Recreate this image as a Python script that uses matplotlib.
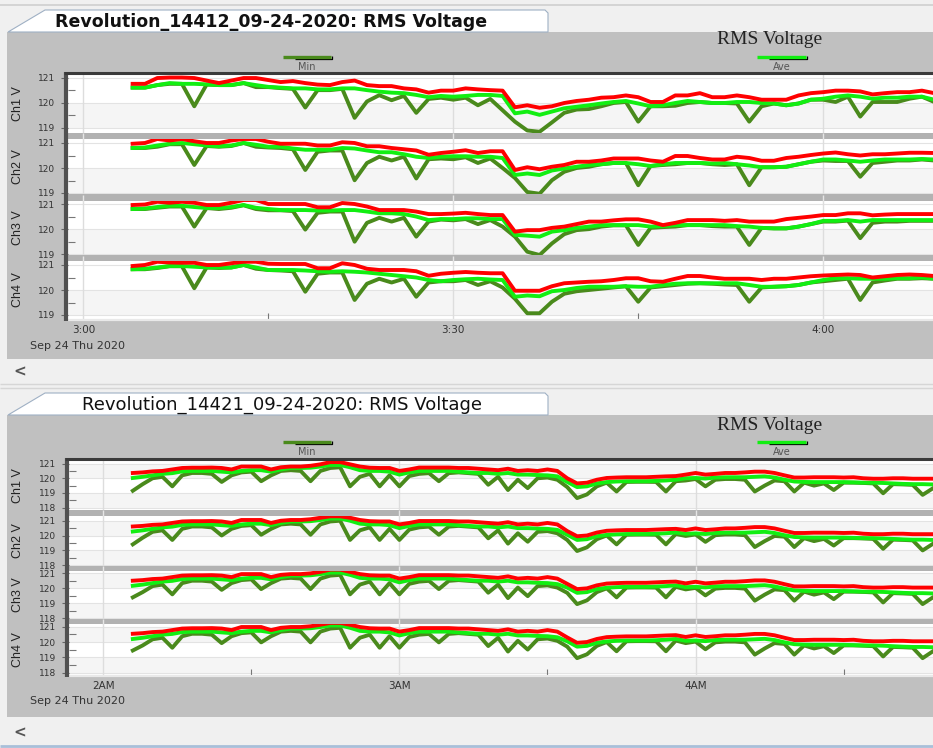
import matplotlib
matplotlib.use("Agg")
import matplotlib.pyplot as plt
from matplotlib.lines import Line2D
from matplotlib.patches import Rectangle, Polygon
from matplotlib.ticker import FixedLocator

# ---------------- data ----------------
# recorder 14412: minutes after 3:00, one sample per minute
top_minutes = list(range(4, 70))
top_ch1_max = [120.75, 120.75, 120.98, 121.00, 121.00, 120.98, 120.88, 120.78, 120.88, 120.98,
               120.98, 120.90, 120.82, 120.86, 120.78, 120.72, 120.70, 120.82, 120.88, 120.70,
               120.66, 120.66, 120.57, 120.53, 120.40, 120.48, 120.48, 120.57, 120.53, 120.50,
               120.48, 119.82, 119.90, 119.80, 119.86, 119.99, 120.07, 120.12, 120.20, 120.22,
               120.29, 120.22, 120.03, 120.03, 120.29, 120.29, 120.38, 120.22, 120.22, 120.29,
               120.22, 120.12, 120.12, 120.12, 120.29, 120.38, 120.42, 120.48, 120.48, 120.45,
               120.33, 120.38, 120.42, 120.42, 120.48, 120.38]
top_ch1_ave = [120.60, 120.60, 120.70, 120.78, 120.75, 120.75, 120.73, 120.70, 120.70, 120.78,
               120.70, 120.63, 120.60, 120.57, 120.57, 120.53, 120.53, 120.57, 120.57, 120.50,
               120.44, 120.40, 120.38, 120.31, 120.22, 120.27, 120.24, 120.27, 120.31, 120.31,
               120.27, 119.58, 119.65, 119.52, 119.65, 119.78, 119.84, 119.90, 119.97, 120.03,
               120.07, 119.97, 119.86, 119.90, 119.99, 120.07, 120.03, 119.99, 119.99, 120.03,
               120.03, 119.99, 119.97, 119.90, 119.97, 120.12, 120.16, 120.24, 120.29, 120.24,
               120.16, 120.20, 120.20, 120.24, 120.24, 120.12]
top_ch1_min = [120.60, 120.60, 120.70, 120.75, 120.75, 119.86, 120.72, 120.70, 120.70, 120.78,
               120.62, 120.62, 120.58, 120.55, 119.81, 120.50, 120.50, 120.55, 119.40, 120.05,
               120.30, 120.10, 120.27, 119.60, 120.15, 120.20, 120.12, 120.20, 119.90, 120.15,
               119.70, 119.25, 118.90, 118.85, 119.22, 119.60, 119.73, 119.75, 119.86, 119.99,
               120.03, 119.25, 119.86, 119.86, 119.88, 119.99, 120.03, 119.99, 119.99, 119.97,
               119.25, 119.86, 119.97, 119.90, 119.97, 120.12, 120.12, 120.03, 120.24, 119.45,
               120.03, 120.03, 120.03, 120.16, 120.24, 120.03]

top_ch2_max = [120.97, 121.00, 121.16, 121.10, 121.16, 121.07, 121.00, 121.00, 121.10, 121.16,
               121.16, 121.05, 120.97, 120.97, 120.97, 120.90, 120.90, 121.03, 121.00, 120.87,
               120.87, 120.80, 120.75, 120.70, 120.53, 120.60, 120.65, 120.71, 120.60, 120.67,
               120.67, 119.92, 120.03, 119.95, 120.05, 120.12, 120.25, 120.25, 120.30, 120.38,
               120.38, 120.38, 120.30, 120.25, 120.48, 120.48, 120.40, 120.34, 120.34, 120.45,
               120.40, 120.29, 120.29, 120.40, 120.45, 120.52, 120.58, 120.62, 120.55, 120.50,
               120.55, 120.55, 120.58, 120.61, 120.61, 120.60]
top_ch2_ave = [120.80, 120.82, 120.90, 120.97, 121.00, 120.95, 120.90, 120.87, 120.90, 121.00,
               120.93, 120.85, 120.85, 120.78, 120.73, 120.73, 120.73, 120.80, 120.78, 120.70,
               120.63, 120.63, 120.55, 120.45, 120.40, 120.45, 120.47, 120.47, 120.45, 120.45,
               120.40, 119.72, 119.78, 119.72, 119.90, 119.98, 120.05, 120.12, 120.15, 120.20,
               120.20, 120.15, 120.08, 120.15, 120.20, 120.20, 120.20, 120.18, 120.20, 120.15,
               120.10, 120.03, 120.03, 120.05, 120.15, 120.25, 120.34, 120.34, 120.30, 120.25,
               120.30, 120.34, 120.34, 120.34, 120.36, 120.34]
top_ch2_min = [120.80, 120.80, 120.85, 120.95, 120.95, 120.12, 120.88, 120.85, 120.88, 121.00,
               120.85, 120.82, 120.80, 120.75, 119.92, 120.65, 120.70, 120.70, 119.51, 120.20,
               120.45, 120.30, 120.45, 119.58, 120.35, 120.38, 120.35, 120.43, 120.20, 120.38,
               120.00, 119.60, 119.04, 118.97, 119.51, 119.85, 120.00, 120.05, 120.15, 120.20,
               120.20, 119.31, 120.08, 120.12, 120.15, 120.20, 120.20, 120.15, 120.12, 120.15,
               119.31, 120.03, 120.03, 120.05, 120.15, 120.25, 120.30, 120.28, 120.28, 119.65,
               120.20, 120.25, 120.30, 120.30, 120.34, 120.30]

top_ch3_max = [120.96, 120.98, 121.09, 121.05, 121.09, 121.05, 120.96, 120.96, 121.05, 121.16,
               121.16, 121.00, 121.00, 121.00, 121.00, 120.87, 120.87, 121.04, 121.00, 120.90,
               120.76, 120.76, 120.76, 120.70, 120.60, 120.60, 120.62, 120.65, 120.60, 120.56,
               120.56, 119.90, 119.96, 119.96, 120.05, 120.10, 120.20, 120.30, 120.30, 120.35,
               120.39, 120.39, 120.30, 120.16, 120.25, 120.36, 120.36, 120.36, 120.33, 120.36,
               120.30, 120.30, 120.30, 120.40, 120.45, 120.50, 120.56, 120.56, 120.63, 120.63,
               120.55, 120.58, 120.60, 120.60, 120.60, 120.60]
top_ch3_ave = [120.80, 120.82, 120.88, 120.93, 120.93, 120.88, 120.84, 120.84, 120.88, 120.96,
               120.85, 120.80, 120.76, 120.76, 120.76, 120.74, 120.74, 120.76, 120.76, 120.70,
               120.63, 120.63, 120.60, 120.50, 120.36, 120.40, 120.40, 120.43, 120.43, 120.40,
               120.40, 119.77, 119.74, 119.70, 119.90, 119.96, 120.05, 120.10, 120.16, 120.16,
               120.16, 120.16, 120.10, 120.12, 120.16, 120.16, 120.16, 120.16, 120.16, 120.12,
               120.10, 120.05, 120.03, 120.03, 120.10, 120.20, 120.33, 120.33, 120.36, 120.30,
               120.36, 120.36, 120.36, 120.36, 120.36, 120.36]
top_ch3_min = [120.80, 120.80, 120.85, 120.90, 120.90, 120.10, 120.84, 120.80, 120.85, 120.95,
               120.80, 120.75, 120.75, 120.72, 119.98, 120.65, 120.70, 120.70, 119.50, 120.25,
               120.45, 120.30, 120.45, 119.70, 120.30, 120.38, 120.35, 120.40, 120.20, 120.36,
               120.10, 119.70, 119.10, 118.97, 119.43, 119.80, 119.96, 120.00, 120.10, 120.15,
               120.15, 119.37, 120.05, 120.08, 120.10, 120.16, 120.16, 120.12, 120.10, 120.10,
               119.37, 120.05, 120.03, 120.03, 120.10, 120.20, 120.30, 120.30, 120.34, 119.64,
               120.25, 120.30, 120.30, 120.33, 120.33, 120.33]

top_ch4_max = [120.96, 121.00, 121.13, 121.10, 121.09, 121.09, 121.00, 121.00, 121.07, 121.13,
               121.13, 121.05, 121.04, 121.04, 121.04, 120.87, 120.87, 121.07, 121.00, 120.85,
               120.80, 120.80, 120.80, 120.75, 120.57, 120.65, 120.69, 120.72, 120.69, 120.67,
               120.67, 119.97, 119.97, 119.97, 120.15, 120.27, 120.30, 120.33, 120.35, 120.40,
               120.47, 120.47, 120.35, 120.33, 120.45, 120.56, 120.56, 120.50, 120.45, 120.45,
               120.45, 120.40, 120.45, 120.45, 120.50, 120.55, 120.58, 120.60, 120.62, 120.60,
               120.50, 120.55, 120.60, 120.62, 120.60, 120.56]
top_ch4_ave = [120.83, 120.85, 120.90, 120.96, 120.96, 120.93, 120.90, 120.90, 120.90, 121.00,
               120.90, 120.80, 120.80, 120.80, 120.78, 120.75, 120.73, 120.75, 120.73, 120.70,
               120.65, 120.60, 120.55, 120.50, 120.40, 120.35, 120.40, 120.43, 120.45, 120.42,
               120.40, 119.73, 119.78, 119.75, 119.95, 120.00, 120.08, 120.13, 120.13, 120.13,
               120.15, 120.13, 120.13, 120.20, 120.25, 120.27, 120.27, 120.27, 120.27, 120.27,
               120.20, 120.13, 120.13, 120.15, 120.20, 120.30, 120.40, 120.47, 120.47, 120.45,
               120.45, 120.45, 120.47, 120.47, 120.50, 120.45]
top_ch4_min = [120.83, 120.83, 120.88, 120.95, 120.95, 120.07, 120.90, 120.88, 120.90, 121.00,
               120.85, 120.80, 120.78, 120.75, 119.93, 120.65, 120.70, 120.70, 119.60, 120.25,
               120.45, 120.30, 120.45, 119.73, 120.30, 120.35, 120.35, 120.40, 120.20, 120.35,
               120.10, 119.65, 119.07, 119.07, 119.53, 119.85, 119.95, 120.00, 120.05, 120.10,
               120.15, 119.53, 120.10, 120.15, 120.20, 120.25, 120.27, 120.25, 120.22, 120.20,
               119.53, 120.10, 120.13, 120.15, 120.20, 120.30, 120.35, 120.40, 120.45, 119.60,
               120.30, 120.38, 120.45, 120.45, 120.47, 120.45]

# recorder 14421: minutes after 2:00, one sample every two minutes
bot_minutes = list(range(6, 169, 2))
bot_ch1_max = [120.36, 120.40, 120.47, 120.50, 120.60, 120.70, 120.72, 120.72, 120.73, 120.70,
               120.60, 120.80, 120.80, 120.80, 120.60, 120.75, 120.80, 120.80, 120.85, 120.95,
               121.10, 121.10, 120.95, 120.80, 120.72, 120.70, 120.70, 120.50, 120.60, 120.73,
               120.73, 120.73, 120.73, 120.70, 120.70, 120.65, 120.60, 120.55, 120.65, 120.50,
               120.55, 120.50, 120.60, 120.50, 120.00, 119.65, 119.70, 119.90, 120.02, 120.05,
               120.07, 120.07, 120.07, 120.10, 120.13, 120.15, 120.25, 120.36, 120.25, 120.30,
               120.36, 120.36, 120.40, 120.45, 120.45, 120.36, 120.20, 120.05, 120.05, 120.07,
               120.07, 120.07, 120.05, 120.07, 120.00, 119.97, 119.97, 120.00, 120.00, 119.97,
               119.97, 119.97]
bot_ch1_ave = [120.02, 120.10, 120.20, 120.30, 120.35, 120.47, 120.50, 120.50, 120.50, 120.45,
               120.40, 120.50, 120.55, 120.55, 120.45, 120.60, 120.70, 120.70, 120.72, 120.80,
               120.90, 120.90, 120.75, 120.55, 120.50, 120.50, 120.45, 120.25, 120.40, 120.50,
               120.50, 120.50, 120.50, 120.45, 120.40, 120.36, 120.36, 120.30, 120.36, 120.25,
               120.25, 120.22, 120.20, 120.13, 119.75, 119.40, 119.45, 119.65, 119.74, 119.78,
               119.80, 119.80, 119.80, 119.82, 119.85, 119.90, 120.00, 120.02, 119.98, 120.05,
               120.07, 120.07, 120.07, 120.10, 120.13, 120.05, 119.90, 119.78, 119.75, 119.74,
               119.74, 119.74, 119.74, 119.72, 119.70, 119.70, 119.68, 119.65, 119.62, 119.60,
               119.60, 119.58]
bot_ch1_min = [119.15, 119.60, 120.00, 120.10, 119.45, 120.20, 120.36, 120.36, 120.30, 119.75,
               120.20, 120.40, 120.45, 119.80, 120.20, 120.50, 120.55, 120.50, 119.80, 120.50,
               120.70, 120.75, 119.45, 120.10, 120.30, 119.45, 120.20, 119.45, 120.15, 120.30,
               120.35, 119.80, 120.35, 120.40, 120.35, 120.30, 119.56, 120.10, 119.20, 119.90,
               119.33, 120.00, 120.05, 119.90, 119.40, 118.65, 118.90, 119.45, 119.70, 119.10,
               119.75, 119.76, 119.76, 119.75, 119.10, 119.80, 119.85, 119.95, 119.45, 119.90,
               119.95, 119.95, 119.90, 119.10, 119.50, 119.85, 119.80, 119.10, 119.70, 119.50,
               119.65, 119.20, 119.70, 119.70, 119.68, 119.65, 118.98, 119.60, 119.58, 119.55,
               118.87, 119.30]

bot_ch2_max = [120.61, 120.65, 120.72, 120.75, 120.85, 120.95, 120.97, 120.97, 120.98, 120.95,
               120.85, 121.05, 121.05, 121.05, 120.85, 121.00, 121.05, 121.05, 121.10, 121.20,
               121.30, 121.30, 121.20, 121.05, 120.97, 120.95, 120.95, 120.75, 120.85, 120.98,
               120.98, 120.98, 120.98, 120.95, 120.95, 120.90, 120.85, 120.80, 120.90, 120.75,
               120.80, 120.75, 120.85, 120.75, 120.30, 119.95, 120.00, 120.20, 120.32, 120.35,
               120.37, 120.37, 120.37, 120.40, 120.43, 120.45, 120.37, 120.48, 120.37, 120.42,
               120.48, 120.48, 120.52, 120.57, 120.57, 120.48, 120.32, 120.17, 120.17, 120.19,
               120.19, 120.19, 120.17, 120.19, 120.12, 120.09, 120.09, 120.12, 120.12, 120.09,
               120.09, 120.09]
bot_ch2_ave = [120.27, 120.35, 120.45, 120.55, 120.60, 120.72, 120.75, 120.75, 120.75, 120.70,
               120.65, 120.75, 120.80, 120.80, 120.70, 120.85, 120.95, 120.95, 120.97, 121.05,
               121.15, 121.15, 121.00, 120.80, 120.75, 120.75, 120.70, 120.50, 120.65, 120.75,
               120.75, 120.75, 120.75, 120.70, 120.65, 120.61, 120.61, 120.55, 120.61, 120.50,
               120.50, 120.47, 120.45, 120.38, 120.05, 119.70, 119.75, 119.95, 120.04, 120.08,
               120.10, 120.10, 120.10, 120.12, 120.15, 120.20, 120.12, 120.14, 120.10, 120.17,
               120.19, 120.19, 120.19, 120.22, 120.25, 120.17, 120.02, 119.90, 119.87, 119.86,
               119.86, 119.86, 119.86, 119.84, 119.82, 119.82, 119.80, 119.77, 119.74, 119.72,
               119.72, 119.70]
bot_ch2_min = [119.40, 119.85, 120.25, 120.35, 119.70, 120.45, 120.61, 120.61, 120.55, 120.00,
               120.45, 120.65, 120.70, 120.05, 120.45, 120.75, 120.80, 120.75, 120.05, 120.75,
               120.95, 121.00, 119.70, 120.35, 120.55, 119.70, 120.45, 119.70, 120.40, 120.55,
               120.60, 120.05, 120.60, 120.65, 120.60, 120.55, 119.81, 120.35, 119.45, 120.15,
               119.58, 120.25, 120.30, 120.15, 119.70, 118.95, 119.20, 119.75, 120.00, 119.40,
               120.05, 120.06, 120.06, 120.05, 119.40, 120.10, 119.97, 120.07, 119.57, 120.02,
               120.07, 120.07, 120.02, 119.22, 119.62, 119.97, 119.92, 119.22, 119.82, 119.62,
               119.77, 119.32, 119.82, 119.82, 119.80, 119.77, 119.10, 119.72, 119.70, 119.67,
               118.99, 119.42]

bot_ch3_max = [120.51, 120.55, 120.62, 120.65, 120.75, 120.85, 120.87, 120.87, 120.88, 120.85,
               120.75, 120.95, 120.95, 120.95, 120.75, 120.90, 120.95, 120.95, 121.00, 121.10,
               121.25, 121.25, 121.10, 120.95, 120.87, 120.85, 120.85, 120.65, 120.75, 120.88,
               120.88, 120.88, 120.88, 120.85, 120.85, 120.80, 120.75, 120.70, 120.80, 120.65,
               120.70, 120.65, 120.75, 120.65, 120.30, 119.95, 120.00, 120.20, 120.32, 120.35,
               120.37, 120.37, 120.37, 120.40, 120.43, 120.45, 120.33, 120.44, 120.33, 120.38,
               120.44, 120.44, 120.48, 120.53, 120.53, 120.44, 120.28, 120.13, 120.13, 120.15,
               120.15, 120.15, 120.13, 120.15, 120.08, 120.05, 120.05, 120.08, 120.08, 120.05,
               120.05, 120.05]
bot_ch3_ave = [120.17, 120.25, 120.35, 120.45, 120.50, 120.62, 120.65, 120.65, 120.65, 120.60,
               120.55, 120.65, 120.70, 120.70, 120.60, 120.75, 120.85, 120.85, 120.87, 120.95,
               121.05, 121.05, 120.90, 120.70, 120.65, 120.65, 120.60, 120.40, 120.55, 120.65,
               120.65, 120.65, 120.65, 120.60, 120.55, 120.51, 120.51, 120.45, 120.51, 120.40,
               120.40, 120.37, 120.35, 120.28, 120.05, 119.70, 119.75, 119.95, 120.04, 120.08,
               120.10, 120.10, 120.10, 120.12, 120.15, 120.20, 120.08, 120.10, 120.06, 120.13,
               120.15, 120.15, 120.15, 120.18, 120.21, 120.13, 119.98, 119.86, 119.83, 119.82,
               119.82, 119.82, 119.82, 119.80, 119.78, 119.78, 119.76, 119.73, 119.70, 119.68,
               119.68, 119.66]
bot_ch3_min = [119.40, 119.75, 120.15, 120.25, 119.60, 120.35, 120.51, 120.51, 120.45, 119.90,
               120.35, 120.55, 120.60, 119.95, 120.35, 120.65, 120.70, 120.65, 119.95, 120.65,
               120.85, 120.90, 119.60, 120.25, 120.45, 119.60, 120.35, 119.60, 120.30, 120.45,
               120.50, 119.95, 120.50, 120.55, 120.50, 120.45, 119.71, 120.25, 119.35, 120.05,
               119.48, 120.15, 120.20, 120.05, 119.70, 118.95, 119.20, 119.75, 120.00, 119.40,
               120.05, 120.06, 120.06, 120.05, 119.40, 120.10, 119.93, 120.03, 119.53, 119.98,
               120.03, 120.03, 119.98, 119.18, 119.58, 119.93, 119.88, 119.18, 119.78, 119.58,
               119.73, 119.28, 119.78, 119.78, 119.76, 119.73, 119.06, 119.68, 119.66, 119.63,
               118.95, 119.38]

bot_ch4_max = [120.54, 120.58, 120.65, 120.68, 120.78, 120.88, 120.90, 120.90, 120.91, 120.88,
               120.78, 120.98, 120.98, 120.98, 120.78, 120.93, 120.98, 120.98, 121.03, 121.13,
               121.25, 121.25, 121.13, 120.98, 120.90, 120.88, 120.88, 120.68, 120.78, 120.91,
               120.91, 120.91, 120.91, 120.88, 120.88, 120.83, 120.78, 120.73, 120.83, 120.68,
               120.73, 120.68, 120.78, 120.68, 120.30, 119.95, 120.00, 120.20, 120.32, 120.35,
               120.37, 120.37, 120.37, 120.40, 120.43, 120.45, 120.33, 120.44, 120.33, 120.38,
               120.44, 120.44, 120.48, 120.53, 120.53, 120.44, 120.28, 120.13, 120.13, 120.15,
               120.15, 120.15, 120.13, 120.15, 120.08, 120.05, 120.05, 120.08, 120.08, 120.05,
               120.05, 120.05]
bot_ch4_ave = [120.20, 120.28, 120.38, 120.48, 120.53, 120.65, 120.68, 120.68, 120.68, 120.63,
               120.58, 120.68, 120.73, 120.73, 120.63, 120.78, 120.88, 120.88, 120.90, 120.98,
               121.08, 121.08, 120.93, 120.73, 120.68, 120.68, 120.63, 120.43, 120.58, 120.68,
               120.68, 120.68, 120.68, 120.63, 120.58, 120.54, 120.54, 120.48, 120.54, 120.43,
               120.43, 120.40, 120.38, 120.31, 120.05, 119.70, 119.75, 119.95, 120.04, 120.08,
               120.10, 120.10, 120.10, 120.12, 120.15, 120.20, 120.08, 120.10, 120.06, 120.13,
               120.15, 120.15, 120.15, 120.18, 120.21, 120.13, 119.98, 119.86, 119.83, 119.82,
               119.82, 119.82, 119.82, 119.80, 119.78, 119.78, 119.76, 119.73, 119.70, 119.68,
               119.68, 119.66]
bot_ch4_min = [119.45, 119.78, 120.18, 120.28, 119.63, 120.38, 120.54, 120.54, 120.48, 119.93,
               120.38, 120.58, 120.63, 119.98, 120.38, 120.68, 120.73, 120.68, 119.98, 120.68,
               120.88, 120.93, 119.63, 120.28, 120.48, 119.63, 120.38, 119.63, 120.33, 120.48,
               120.53, 119.98, 120.53, 120.58, 120.53, 120.48, 119.74, 120.28, 119.38, 120.08,
               119.51, 120.18, 120.23, 120.08, 119.70, 118.95, 119.20, 119.75, 120.00, 119.40,
               120.05, 120.06, 120.06, 120.05, 119.40, 120.10, 119.93, 120.03, 119.53, 119.98,
               120.03, 120.03, 119.98, 119.18, 119.58, 119.93, 119.88, 119.18, 119.78, 119.58,
               119.73, 119.28, 119.78, 119.78, 119.76, 119.73, 119.06, 119.68, 119.66, 119.63,
               118.95, 119.38]

channel_labels = ["Ch1 V", "Ch2 V", "Ch3 V", "Ch4 V"]
top_xticks = [0, 30, 60]
top_xtick_labels = ["3:00", "3:30", "4:00"]
top_yticks = [119, 120, 121]
bot_xticks = [0, 60, 120]
bot_xtick_labels = ["2AM", "3AM", "4AM"]
bot_yticks = [118, 119, 120, 121]
date_label = "Sep 24 Thu 2020"

MIN_C = "#4a8a1c"
AVE_C = "#12ee12"
MAX_C = "#ff0000"
PANEL_C = "#c0c0c0"

# ---------------- figure helpers (pixel coordinates, y down) ----------------
W, H = 933, 748
fig = plt.figure(figsize=(W / 100, H / 100), dpi=100)
fig.patch.set_facecolor("#f0f0f0")


def fx(x):
    return x / W


def fy(y):
    return 1 - y / H


def line(xs, ys, color, lw, z=3):
    fig.add_artist(Line2D([fx(v) for v in xs], [fy(v) for v in ys], color=color, lw=lw,
                          zorder=z, transform=fig.transFigure, solid_capstyle="butt"))


def box(x0, y0, x1, y1, color, z=-5):
    fig.add_artist(Rectangle((fx(x0), fy(y1)), (x1 - x0) / W, (y1 - y0) / H, facecolor=color,
                             edgecolor="none", transform=fig.transFigure, zorder=z))


def text(x, y, s, **kw):
    fig.text(fx(x), fy(y), s, **kw)


def panel(tab_top, bg_top, bg_bottom, tab_label, tab_weight, tab_x, tab_size, title_y,
          legend_y, frame_top, left_x, boxes, ylims, xlim, minutes, series, xticks, xlabels,
          minor_x, yticks, minor_y, bands, date_y):
    # tab and grey panel
    box(7, bg_top, W, bg_bottom, PANEL_C)
    fig.add_artist(Polygon([(fx(8), fy(bg_top)), (fx(45), fy(tab_top)), (fx(545), fy(tab_top)),
                            (fx(548), fy(tab_top + 3)), (fx(548), fy(bg_top))],
                           closed=True, facecolor="white", edgecolor="#9fb0c4", lw=0.8,
                           transform=fig.transFigure, zorder=-4))
    text(tab_x, (tab_top + bg_top) / 2 + 1, tab_label, fontsize=tab_size, fontweight=tab_weight,
         color="#111111", va="center", ha="left", family="DejaVu Sans")

    # title and legend
    text(770, title_y, "RMS Voltage", fontsize=14, family="Liberation Serif",
         color="#222222", ha="center", va="center")
    for (x0, x1), c, lab in [((283, 331), MIN_C, "Min"), ((757, 806), AVE_C, "Ave")]:
        line([x0 + 12, x1 + 1, x1 + 1], [legend_y + 2, legend_y + 2, legend_y - 1], "black", 0.9)
        line([x0, x1], [legend_y, legend_y], c, 2.4, z=4)
        text((x0 + x1) / 2, legend_y + 10, lab, fontsize=7, color="#555555",
             ha="center", va="center")

    span = xlim[1] - xlim[0]

    def xpix(v):
        return left_x + (v - xlim[0]) / span * (W - left_x)

    for i, ((t, b), yl) in enumerate(zip(boxes, ylims)):
        ax = fig.add_axes([fx(left_x), fy(b), (W - left_x) / W, (b - t) / H])
        ax.set_xlim(xlim)
        ax.set_ylim(yl)
        ax.set_facecolor("white")
        for lo, hi in bands:
            ax.axhspan(lo, hi, color="#f5f5f5", lw=0, zorder=0)
        for v in yticks:
            ax.axhline(v, color="#e3e3e3", lw=0.8, zorder=0.5)
        for v in xticks:
            ax.axvline(v, color="#dddddd", lw=1.0, zorder=0.5)
        mn, av, mx = series[i]
        ax.plot(minutes, mn, color=MIN_C, lw=2.8, zorder=2)
        ax.plot(minutes, av, color=AVE_C, lw=2.8, zorder=3)
        ax.plot(minutes, mx, color=MAX_C, lw=2.8, zorder=4)
        for s in ax.spines.values():
            s.set_visible(False)
        ax.set_yticks(yticks)
        ax.set_yticklabels([str(v) for v in yticks])
        ax.yaxis.set_minor_locator(FixedLocator(minor_y))
        ax.tick_params(axis="y", which="major", direction="out", length=5, width=0.8,
                       color="#666666", labelsize=6.5, labelcolor="#333333", pad=4)
        ax.tick_params(axis="y", which="minor", direction="in", length=5, width=0.8,
                       color="#777777")
        if i == len(boxes) - 1:
            ax.set_xticks(xticks)
            ax.set_xticklabels(xlabels)
            ax.xaxis.set_minor_locator(FixedLocator(minor_x))
            ax.tick_params(axis="x", which="major", length=0, pad=4.5, labelsize=7.5,
                           labelcolor="#333333")
            ax.tick_params(axis="x", which="minor", direction="in", length=4, width=0.8,
                           color="#777777")
        else:
            ax.set_xticks([])
        text(18, (t + b) / 2, channel_labels[i], rotation=90, fontsize=9,
             family="Liberation Sans", color="#222222", ha="center", va="center")
        # separator bar below this channel
        if i < len(boxes) - 1:
            nt = boxes[i + 1][0]
            box(left_x - 1, b, W, nt, "#b2b2b2", z=1)
            for v in xticks:
                line([xpix(v), xpix(v)], [b, nt], "#e6e6e6", 1.0, z=2)

    bottom = boxes[-1][1]
    line([left_x, W], [bottom + 1, bottom + 1], "#e9e9e9", 1.6)
    line([left_x - 2, left_x - 2], [frame_top - 2, bottom + 2], "#505050", 3.0)
    line([left_x - 4, W], [frame_top - 1.5, frame_top - 1.5], "#3a3a3a", 2.2)
    text(30, date_y, date_label, fontsize=8, color="#333333", ha="left", va="center")


# ---------------- window chrome ----------------
line([0, W], [4.5, 4.5], "#cfcfcf", 1.2)
line([0, W], [384, 384], "#d6d6d6", 1.0)
line([0, W], [388, 388], "#d6d6d6", 1.0)
text(20, 372, "<", fontsize=11, color="#555555", ha="center", va="center", fontweight="bold")
text(20, 733, "<", fontsize=11, color="#555555", ha="center", va="center", fontweight="bold")
line([0, W], [746, 746], "#a9bfd9", 2.0)

top_series = [(top_ch1_min, top_ch1_ave, top_ch1_max), (top_ch2_min, top_ch2_ave, top_ch2_max),
              (top_ch3_min, top_ch3_ave, top_ch3_max), (top_ch4_min, top_ch4_ave, top_ch4_max)]
bot_series = [(bot_ch1_min, bot_ch1_ave, bot_ch1_max), (bot_ch2_min, bot_ch2_ave, bot_ch2_max),
              (bot_ch3_min, bot_ch3_ave, bot_ch3_max), (bot_ch4_min, bot_ch4_ave, bot_ch4_max)]

panel(tab_top=10, bg_top=32, bg_bottom=359,
      tab_label="Revolution_14412_09-24-2020: RMS Voltage", tab_weight="bold", tab_x=55,
      tab_size=12.5, title_y=40, legend_y=57, frame_top=74, left_x=68,
      boxes=[(74, 133), (139, 194.5), (200.5, 255.5), (261, 319)],
      ylims=[(118.80, 121.14), (118.94, 121.16), (118.95, 121.14), (118.84, 121.16)],
      xlim=(-1.24, 68.9), minutes=top_minutes, series=top_series,
      xticks=top_xticks, xlabels=top_xtick_labels, minor_x=[15, 45],
      yticks=top_yticks, minor_y=[119.5, 120.5], bands=[(119, 120)], date_y=346)

panel(tab_top=393, bg_top=415, bg_bottom=717,
      tab_label="Revolution_14421_09-24-2020: RMS Voltage", tab_weight="normal", tab_x=82,
      tab_size=13, title_y=425, legend_y=442, frame_top=460.5, left_x=69,
      boxes=[(460.5, 510), (516, 565.5), (570.5, 618.5), (623.5, 675)],
      ylims=[(117.84, 121.21), (117.97, 121.32), (117.99, 121.19), (117.85, 121.21)],
      xlim=(-6.93, 168.1), minutes=bot_minutes, series=bot_series,
      xticks=bot_xticks, xlabels=bot_xtick_labels, minor_x=[30, 90, 150],
      yticks=bot_yticks, minor_y=[118.5, 119.5, 120.5], bands=[(120, 121), (118, 119)],
      date_y=701)

fig.savefig("out.png", dpi=100, facecolor=fig.get_facecolor())
